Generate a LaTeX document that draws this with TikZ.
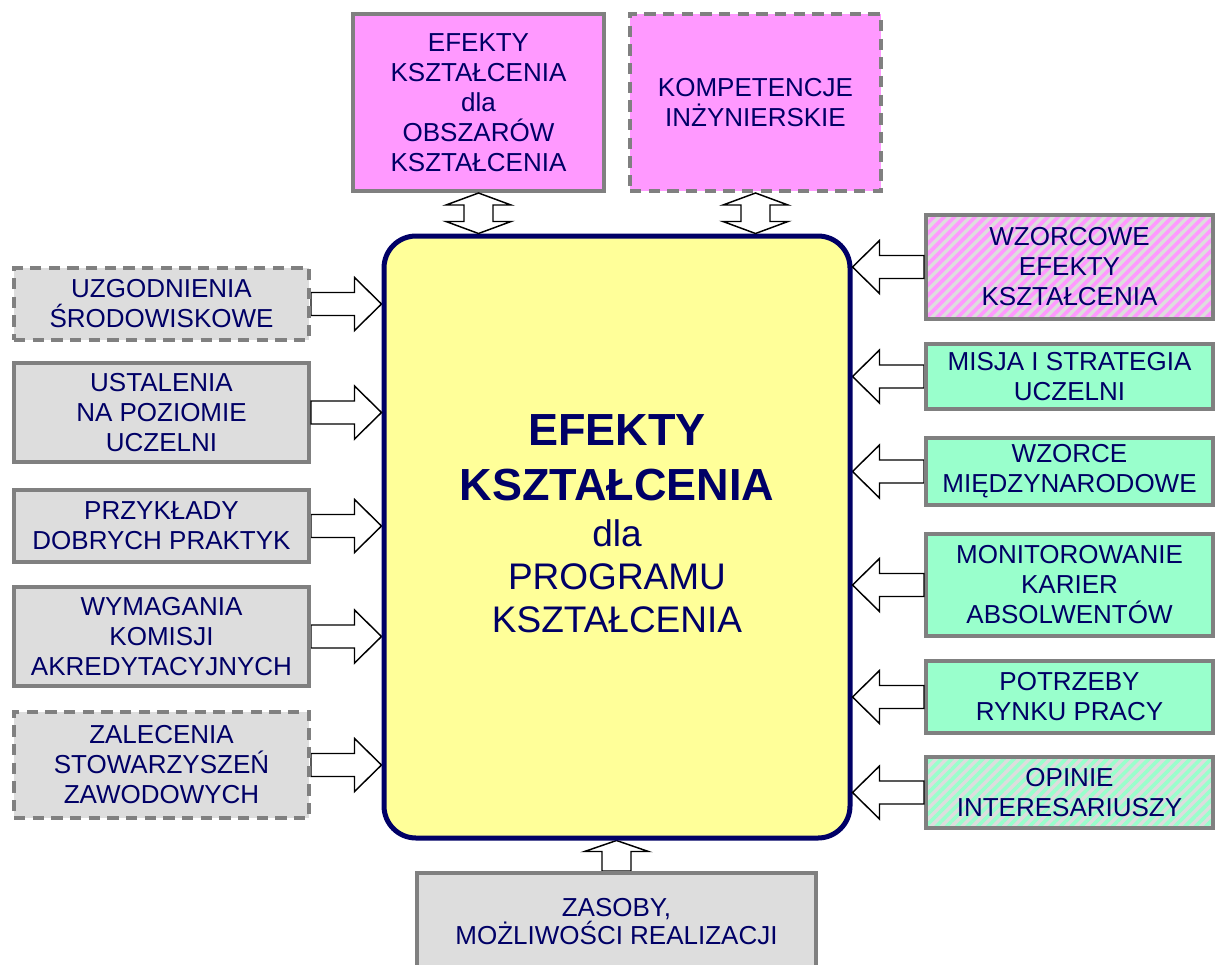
\documentclass[tikz,border=0pt]{standalone}
\usepackage{fontspec}
\setmainfont{Liberation Sans}
\usetikzlibrary{calc,backgrounds,patterns.meta}
\definecolor{navyc}{HTML}{000066}
\definecolor{bordc}{HTML}{808080}
\definecolor{grayc}{HTML}{DDDDDD}
\definecolor{pinkc}{HTML}{FF99FF}
\definecolor{greenc}{HTML}{99FFCC}
\definecolor{yellowc}{HTML}{FFFF99}
\tikzset{
  box/.style={draw=bordc, line width=3pt, inner sep=0pt, align=center, text=navyc,
    font=\fontsize{19.5pt}{22.5pt}\selectfont},
  dashbox/.style={dash pattern=on 8.5pt off 5.5pt},
  graybox/.style={box, fill=grayc},
  pinkbox/.style={box, fill=pinkc},
  greenbox/.style={box, fill=greenc},
  hatchpink/.style={box, preaction={fill=grayc},
    preaction={pattern={Lines[angle=45,distance=5.5pt,line width=2.7pt]}, pattern color=pinkc}},
  hatchgreen/.style={box, preaction={fill=grayc},
    preaction={pattern={Lines[angle=45,distance=5.5pt,line width=2.7pt]}, pattern color=greenc}},
  leftcol/.style={minimum width=221.25pt},
  rightcol/.style={minimum width=215.25pt},
  topcol/.style={minimum width=188.25pt, minimum height=132.75pt},
  mainbox/.style={draw=navyc, line width=3.75pt, fill=yellowc, rounded corners=24pt,
    inner sep=0pt, minimum width=349.5pt, minimum height=451.5pt},
  maintxtb/.style={text=navyc, inner sep=0pt, anchor=base,
    font=\fontsize{33.75pt}{38pt}\selectfont\bfseries},
  maintxt/.style={text=navyc, inner sep=0pt, anchor=base,
    font=\fontsize{27.75pt}{32pt}\selectfont},
  plaintxt/.style={text=navyc, inner sep=0pt, align=center,
    font=\fontsize{19.5pt}{21pt}\selectfont},
  blk/.style={draw=black, fill=white, line width=1.1pt, line join=miter},
}
\newcommand{\sidearrow}[3]{%
  \draw[blk] ($(#1)+(0,-11.5)$) -- ($(#2)+({-27*#3},-11.5)$) -- ($(#2)+({-27*#3},-26.5)$)
    -- (#2) -- ($(#2)+({-27*#3},26.5)$) -- ($(#2)+({-27*#3},11.5)$) -- ($(#1)+(0,11.5)$) -- cycle;}
\newcommand{\dblarrow}[2]{%
  \draw[blk] (#1) -- ($(#1)+(32.5,12)$) -- ($(#1)+(14.5,12)$) -- ($(#2)+(14.5,-12)$)
    -- ($(#2)+(32.5,-12)$) -- (#2) -- ($(#2)+(-32.5,-12)$) -- ($(#2)+(-14.5,-12)$)
    -- ($(#1)+(-14.5,12)$) -- ($(#1)+(-32.5,12)$) -- cycle;}
\newcommand{\uparrowblk}[2]{%
  \draw[blk] ($(#1)+(-14.5,0)$) -- ($(#2)+(-14.5,11)$) -- ($(#2)+(-32,11)$) -- (#2)
    -- ($(#2)+(32,11)$) -- ($(#2)+(14.5,11)$) -- ($(#1)+(14.5,0)$) -- cycle;}
\begin{document}
\begin{tikzpicture}[x=0.75pt,y=-0.75pt]
\useasboundingbox (0,0) rectangle (1216,964);

% main box
\node[mainbox] (main) at (617,537) {};
\node[maintxtb] (m1) at (617,445) {EFEKTY};
\node[maintxtb] (m2) at (617,500) {KSZTAŁCENIA};
\node[maintxt] (m3) at (617,546) {dla};
\node[maintxt] (m4) at (617,589) {PROGRAMU};
\node[maintxt] (m5) at (617,632) {KSZTAŁCENIA};

% top boxes
\node[pinkbox, topcol, text depth=-6pt] (T1) at (478.5,102.5) {EFEKTY\\KSZTAŁCENIA\\dla\\OBSZARÓW\\KSZTAŁCENIA};
\node[pinkbox, dashbox, topcol] (T2) at (755.5,102.5) {KOMPETENCJE\\INŻYNIERSKIE};

% left boxes
\node[graybox, dashbox, leftcol, minimum height=54pt] (L1) at (161.5,304) {UZGODNIENIA\\ŚRODOWISKOWE};
\node[graybox, leftcol, minimum height=74.25pt] (L2) at (161.5,412.5) {USTALENIA\\NA POZIOMIE\\UCZELNI};
\node[graybox, leftcol, minimum height=54pt] (L3) at (161.5,526) {PRZYKŁADY\\DOBRYCH PRAKTYK};
\node[graybox, leftcol, minimum height=74.25pt] (L4) at (161.5,636.5) {WYMAGANIA\\KOMISJI\\AKREDYTACYJNYCH};
\node[graybox, dashbox, leftcol, minimum height=79.5pt] (L5) at (161.5,765) {ZALECENIA\\STOWARZYSZEŃ\\ZAWODOWYCH};

% right boxes
\node[hatchpink, rightcol, minimum height=78pt] (R1) at (1069.5,267) {WZORCOWE\\EFEKTY\\KSZTAŁCENIA};
\node[greenbox, rightcol, minimum height=48.75pt] (R2) at (1069.5,376.5) {MISJA I STRATEGIA\\UCZELNI};
\node[greenbox, rightcol, minimum height=50.25pt] (R3) at (1069.5,471.5) {WZORCE\\MIĘDZYNARODOWE};
\node[greenbox, rightcol, minimum height=76.5pt] (R4) at (1069.5,585) {MONITOROWANIE\\KARIER\\ABSOLWENTÓW};
\node[greenbox, rightcol, minimum height=54pt] (R5) at (1069.5,697) {POTRZEBY\\RYNKU PRACY};
\node[hatchgreen, rightcol, minimum height=53.25pt] (R6) at (1069.5,792.5) {OPINIE\\INTERESARIUSZY};

% bottom box
\node[graybox, minimum width=299.25pt, minimum height=95.25pt] (B) at (616.5,936.5) {};
\node[plaintxt] (Btxt) at (616.5,922) {ZASOBY,\\MOŻLIWOŚCI REALIZACJI};

% tip coordinates
\foreach \n in {L1,L2,L3,L4,L5}{\coordinate (t\n) at (\n.east -| main.west);}
\foreach \n in {R1,R2,R3,R4,R5,R6}{\coordinate (t\n) at (\n.west -| main.east);}
\coordinate (bT1) at (T1.south |- main.north);
\coordinate (bT2) at (T2.south |- main.north);
\coordinate (tB) at (B.north |- main.south);

% arrows behind boxes
\begin{scope}[on background layer]
  \fill[white] (0,0) rectangle (1216,964);
  \sidearrow{L1.east}{tL1}{1}
  \sidearrow{L3.east}{tL3}{1}
  \sidearrow{L4.east}{tL4}{1}
  \sidearrow{L5.east}{tL5}{1}
  \sidearrow{R2.west}{tR2}{-1}
  \sidearrow{R3.west}{tR3}{-1}
  \uparrowblk{B.north}{tB}
\end{scope}

% arrows in front
\sidearrow{L2.east}{tL2}{1}
\sidearrow{R1.west}{tR1}{-1}
\sidearrow{R4.west}{tR4}{-1}
\sidearrow{R5.west}{tR5}{-1}
\sidearrow{R6.west}{tR6}{-1}
\dblarrow{T1.south}{bT1}
\dblarrow{T2.south}{bT2}
\end{tikzpicture}
\end{document}
